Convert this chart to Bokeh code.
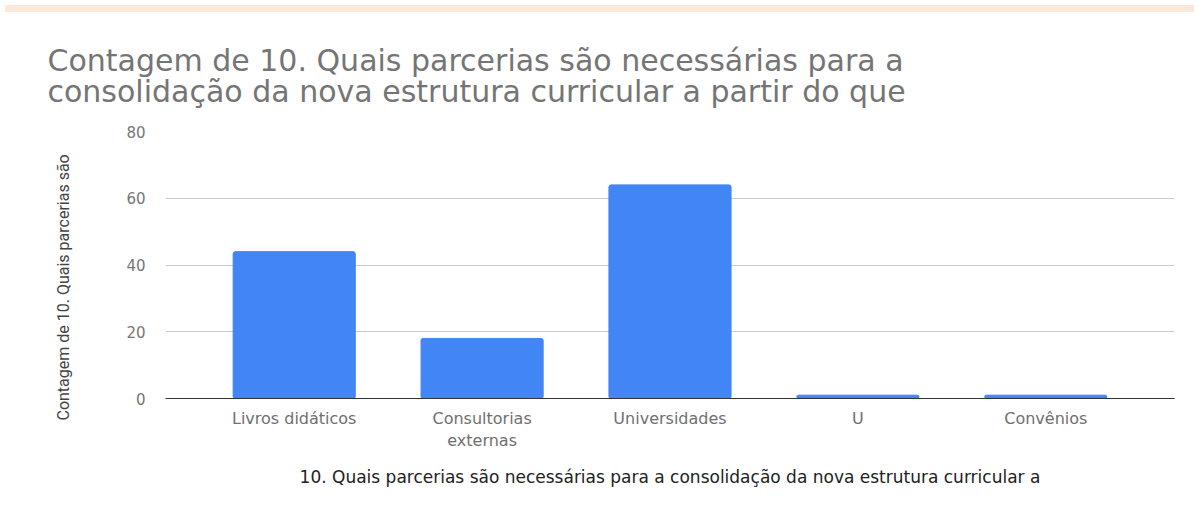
from bokeh.plotting import figure
from bokeh.models import FactorRange, Range1d, FixedTicker, Div, Title
from bokeh.layouts import column
from bokeh.embed import file_html
from bokeh.resources import INLINE

categories = ["Livros didáticos", "Consultorias\nexternas", "Universidades", "U", "Convênios"]
counts = [44, 18, 64, 1, 1]
y_ticks = [0, 20, 40, 60, 80]
title_text = ("Contagem de 10. Quais parcerias são necessárias para a\n"
              "consolidação da nova estrutura curricular a partir do que")
x_title = "10. Quais parcerias são necessárias para a consolidação da nova estrutura curricular a"
y_title = "Contagem de 10. Quais parcerias são"

PEACH = "#FCE8DA"
FONT = "DejaVu Sans"

p = figure(width=1189, height=492,
           x_range=FactorRange(*categories, range_padding=0.074),
           y_range=Range1d(0, 80),
           output_backend="svg", toolbar_location=None,
           min_border_left=165, min_border_right=15,
           min_border_top=114, min_border_bottom=111,
           background_fill_color="white", border_fill_color="white",
           outline_line_color=None)

p.vbar(x=categories, top=counts, width=0.65, color="#4285F4", border_radius=2)

p.title.text = title_text
p.title.text_font = FONT
p.title.text_font_size = "30px"
p.title.text_font_style = "normal"
p.title.text_color = "#757575"
p.title.text_line_height = 0.9
p.title.align = "left"
p.title.offset = -118
p.title.standoff = 45

# y axis
p.yaxis.ticker = FixedTicker(ticks=y_ticks)
p.yaxis.axis_line_color = None
p.yaxis.major_tick_line_color = None
p.yaxis.minor_tick_line_color = None
p.yaxis.major_label_text_font = FONT
p.yaxis.major_label_text_font_size = "15px"
p.yaxis.major_label_text_color = "#757575"
p.yaxis.major_label_standoff = 14

ytitle = Title(text=y_title, align="left", offset=-22, standoff=101,
               text_font="Roboto", text_font_size="16px", text_font_style="normal",
               text_color="#444444")
p.add_layout(ytitle, "left")

# x axis
p.xaxis.axis_line_color = "#333333"
p.xaxis.major_tick_line_color = None
p.xaxis.minor_tick_line_color = None
p.xaxis.major_label_text_font = FONT
p.xaxis.major_label_text_font_size = "16px"
p.xaxis.major_label_text_color = "#707070"
p.xaxis.major_label_standoff = 4
p.xaxis.axis_label = x_title
p.xaxis.axis_label_text_font = FONT
p.xaxis.axis_label_text_font_size = "17px"
p.xaxis.axis_label_text_font_style = "normal"
p.xaxis.axis_label_text_color = "#222222"
p.xaxis.axis_label_standoff = 14

p.xgrid.grid_line_color = None
p.ygrid.grid_line_color = "#CCCCCC"

band = Div(width=1189, height=7, styles={"background-color": PEACH})
layout = column(band, p, spacing=0)

open("out.html", "w").write(file_html(layout, INLINE))
